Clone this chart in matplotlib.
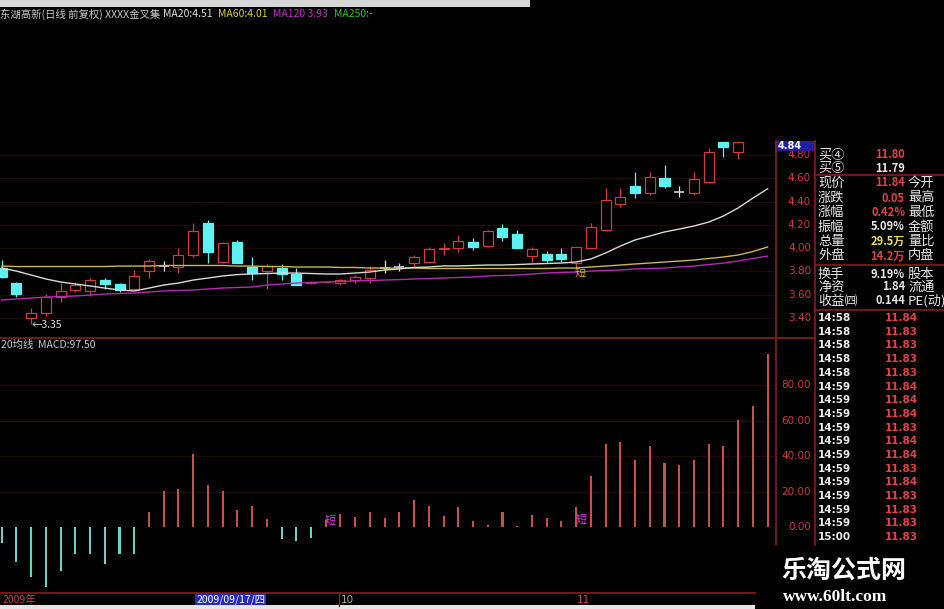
import matplotlib
matplotlib.use("Agg")
import matplotlib.pyplot as plt
import numpy as np
from matplotlib import transforms
from matplotlib.patches import Rectangle

W, H = 945, 609
plt.rcParams["font.family"] = ["Noto Sans CJK SC", "DejaVu Sans"]

# --- Kursdaten (Tageskerzen) ---
opens = [3.83, 3.70, 3.40, 3.44, 3.58, 3.64, 3.63, 3.73, 3.69, 3.65,
         3.80, 3.85, 3.84, 3.94, 4.22, 3.88, 4.05, 3.84, 3.80, 3.83,
         3.78, 3.70, 3.705, 3.70, 3.725, 3.745, 3.83, 3.84, 3.87, 3.88,
         3.99, 4.00, 4.05, 4.02, 4.17, 4.12, 3.93, 3.95, 3.95, 3.87,
         4.00, 4.16, 4.38, 4.53, 4.47, 4.60, 4.48, 4.47, 4.57, 4.91,
         4.83, np.nan, np.nan]
highs = [3.90, 3.71, 3.49, 3.61, 3.70, 3.71, 3.74, 3.74, 3.70, 3.81,
         3.91, 3.89, 4.00, 4.22, 4.24, 4.05, 4.07, 3.92, 3.86, 3.86,
         3.83, 3.72, 3.72, 3.735, 3.77, 3.85, 3.90, 3.87, 3.94, 4.01,
         4.04, 4.11, 4.09, 4.16, 4.21, 4.16, 4.01, 3.975, 4.00, 4.01,
         4.22, 4.52, 4.52, 4.65, 4.65, 4.71, 4.53, 4.65, 4.86, 4.91,
         4.91, np.nan, np.nan]
lows = [3.74, 3.58, 3.35, 3.42, 3.54, 3.62, 3.59, 3.65, 3.62, 3.64,
        3.74, 3.80, 3.79, 3.92, 3.87, 3.87, 3.87, 3.73, 3.65, 3.73,
        3.68, 3.69, 3.70, 3.68, 3.70, 3.70, 3.79, 3.80, 3.84, 3.87,
        3.94, 3.97, 3.98, 4.01, 4.06, 4.00, 3.88, 3.88, 3.88, 3.83,
        4.00, 4.15, 4.35, 4.43, 4.46, 4.52, 4.44, 4.46, 4.56, 4.78,
        4.77, np.nan, np.nan]
closes = [3.75, 3.61, 3.44, 3.58, 3.63, 3.68, 3.73, 3.69, 3.64, 3.76,
          3.89, 3.85, 3.94, 4.15, 3.97, 4.04, 3.87, 3.79, 3.85, 3.78,
          3.68, 3.71, 3.71, 3.725, 3.75, 3.81, 3.83, 3.84, 3.92, 3.99,
          4.00, 4.06, 4.01, 4.15, 4.10, 4.00, 3.99, 3.90, 3.91, 4.01,
          4.18, 4.41, 4.44, 4.47, 4.61, 4.53, 4.48, 4.59, 4.83, 4.87,
          4.91, np.nan, np.nan]

ma20 = [3.829, 3.803, 3.769, 3.735, 3.709, 3.692, 3.675, 3.657, 3.640, 3.632,
        3.657, 3.683, 3.700, 3.726, 3.743, 3.761, 3.773, 3.778, 3.782, 3.786,
        3.786, 3.782, 3.778, 3.778, 3.786, 3.795, 3.812, 3.821, 3.834, 3.838,
        3.847, 3.847, 3.851, 3.855, 3.855, 3.859, 3.864, 3.868, 3.872, 3.881,
        3.907, 3.958, 4.018, 4.070, 4.104, 4.139, 4.164, 4.190, 4.224, 4.276,
        4.345, 4.430, 4.510]
ma60 = [3.846, 3.842, 3.842, 3.842, 3.842, 3.842, 3.842, 3.842, 3.846, 3.846,
        3.846, 3.851, 3.851, 3.851, 3.851, 3.851, 3.846, 3.846, 3.842, 3.842,
        3.838, 3.838, 3.838, 3.834, 3.834, 3.829, 3.829, 3.829, 3.829, 3.825,
        3.825, 3.825, 3.825, 3.825, 3.825, 3.825, 3.825, 3.825, 3.829, 3.829,
        3.838, 3.846, 3.855, 3.864, 3.872, 3.881, 3.889, 3.898, 3.911, 3.924,
        3.941, 3.971, 4.010]
ma120 = [3.554, 3.563, 3.571, 3.580, 3.584, 3.589, 3.597, 3.606, 3.610, 3.614,
         3.623, 3.632, 3.636, 3.640, 3.649, 3.657, 3.662, 3.666, 3.683, 3.692,
         3.700, 3.705, 3.709, 3.713, 3.718, 3.722, 3.726, 3.730, 3.735, 3.739,
         3.743, 3.748, 3.752, 3.761, 3.765, 3.769, 3.778, 3.786, 3.791, 3.795,
         3.803, 3.808, 3.812, 3.821, 3.825, 3.829, 3.838, 3.846, 3.859, 3.872,
         3.889, 3.911, 3.932]

macd = [-9, -20, -28.5, -34, -25, -15, -15, -21, -15.5, -15,
        8.5, 20.5, 21.5, 41, 24, 20.5, 9.5, 12, 4.5, -7,
        -8, -6, 4, 7.5, 5.5, 8.5, 5, 8.5, 15, 12,
        6, 11.5, 3.5, 1, 8.5, 0.5, 7, 5, 3.5, 11.5,
        29, 47, 48, 38, 45.5, 36, 35, 38, 47, 45.5,
        60.5, 68.5, 97.5]

price_ticks = [3.40, 3.60, 3.80, 4.00, 4.20, 4.40, 4.60, 4.80]
macd_ticks = [0, 20, 40, 60, 80]

# Info-Panel rechts
info_rows = [
    ("买④", "11.80", "red", ""), ("买⑤", "11.79", "white", ""),
    ("现价", "11.84", "red", "今开"), ("涨跌", "0.05", "red", "最高"),
    ("涨幅", "0.42%", "red", "最低"), ("振幅", "5.09%", "white", "金额"),
    ("总量", "29.5万", "yellow", "量比"), ("外盘", "14.2万", "red", "内盘"),
    ("换手", "9.19%", "white", "股本"), ("净资", "1.84", "white", "流通"),
    ("收益㈣", "0.144", "white", "PE(动)"),
]
info_y = [155, 168, 183, 198, 212, 227, 241, 256, 274, 287, 301]
tick_times = ["14:58"] * 5 + ["14:59"] * 11 + ["15:00"]
tick_prices = ["11.84", "11.83", "11.83", "11.83", "11.83", "11.84", "11.84",
               "11.84", "11.83", "11.84", "11.84", "11.83", "11.84", "11.83",
               "11.83", "11.83", "11.83"]

RED = "#cc3e36"
CYAN = "#5ff2f2"
DOJI = "#e4e4e4"
GRID = "#260707"
FRAME = "#8a1c1c"
COLS = {"red": "#e04444", "white": "#e8e8e8", "yellow": "#e6e060"}


def px_rect(x0, y0, x1, y1):
    return [x0 / W, 1 - y1 / H, (x1 - x0) / W, (y1 - y0) / H]


fig = plt.figure(figsize=(W / 100, H / 100), dpi=100, facecolor="black")
xlim = (-0.115, 52.57)

# --- Kurs-Panel ---
ax = fig.add_axes(px_rect(0, 20, 776, 338))
ax.set_xlim(*xlim)
ax.set_ylim(3.228, 5.96)
ax.axis("off")
for t in price_ticks:
    ax.axhline(t, color=GRID, lw=0.7, zorder=1)

idx = np.arange(len(opens))
BW = 0.68
for i, o, h, l, c in zip(idx, opens, highs, lows, closes):
    if np.isnan(o):
        continue
    if c > o:
        col, face = RED, "black"
    elif c < o:
        col, face = CYAN, CYAN
    else:
        col, face = DOJI, None
    ax.vlines(i, l, h, color=col, lw=0.9, zorder=3)
    if face is None:
        ax.hlines(o, i - BW / 2, i + BW / 2, color=col, lw=1.1, zorder=4)
    else:
        ax.add_patch(Rectangle((i - BW / 2, min(o, c)), BW, abs(c - o),
                               facecolor=face, edgecolor=col, lw=0.9, zorder=4))

ax.plot(idx, ma60, color="#c8b850", lw=1.0, zorder=5)
ax.plot(idx, ma120, color="#b02cb0", lw=1.0, zorder=5)
ax.plot(idx, ma20, color="#d8d8d8", lw=1.0, zorder=6)

ptrans = transforms.blended_transform_factory(fig.transFigure, ax.transData)
for t in price_ticks:
    ax.text(811 / W, t, f"{t:.2f}", transform=ptrans, ha="right", va="center",
            color="#c83c3c", fontsize=7.5, family="DejaVu Sans", clip_on=False)

# --- MACD-Panel ---
mx = fig.add_axes(px_rect(0, 338, 776, 593))
mx.set_xlim(*xlim)
mx.set_ylim(-37.3, 106.8)
mx.axis("off")
for t in macd_ticks[1:]:
    mx.axhline(t, color=GRID, lw=0.8, zorder=1)
bar_cols = ["#c85044" if v >= 0 else "#6cd2c8" for v in macd]
mx.bar(idx, macd, width=0.14, color=bar_cols, zorder=3)
mtrans = transforms.blended_transform_factory(fig.transFigure, mx.transData)
for t in macd_ticks:
    mx.text(811 / W, t, f"{t:.2f}", transform=mtrans, ha="right", va="center",
            color="#c83c3c", fontsize=7.5, family="DejaVu Sans", clip_on=False)

# --- Overlay in Pixelkoordinaten ---
ov = fig.add_axes([0, 0, 1, 1], zorder=10)
ov.set_xlim(0, W)
ov.set_ylim(H, 0)
ov.axis("off")

ov.add_patch(Rectangle((0, 0), 530, 7, facecolor="#d6d6d6", lw=0))
title_parts = [
    (0, "东湖高新(日线 前复权) XXXX金叉集", "#c8c8c8"),
    (163, "MA20:4.51", "#e0e0e0"),
    (218, "MA60:4.01", "#d8cc40"),
    (273, "MA120 3.93", "#c030c0"),
    (334, "MA250:-", "#30c030"),
]
for x, s, c in title_parts:
    ov.text(x, 14, s, color=c, fontsize=7.5, va="center", ha="left")

# Rahmenlinien
ov.plot([0, 815], [338, 338], color=FRAME, lw=1.2)
ov.plot([776, 776], [141, 545], color=FRAME, lw=1.2)
ov.plot([815, 815], [141, 545], color=FRAME, lw=1.2)
for y in (175, 265, 310):
    ov.plot([815, 945], [y, y], color=FRAME, lw=1.2)
ov.plot([0, 755], [593, 593], color=FRAME, lw=1.2)
ov.plot([339, 339], [593, 606], color=FRAME, lw=1.0)

# 4.84-Markierung
ov.add_patch(Rectangle((775, 141), 40, 10, facecolor="#1e1ea8", lw=0))
ov.text(778, 146, "4.84", color="white", fontsize=7, va="center",
        family="DejaVu Sans", fontweight="bold")

ov.text(32, 325, "←3.35", color="#e0e0e0", fontsize=7.5, va="center")
ov.text(580, 273, "短", color="#e0b020", fontsize=8, va="center", ha="center")
ov.text(1, 345, "20均线  MACD:97.50", color="#c8c8c8", fontsize=7.5, va="center")
ov.text(330, 521, "短", color="#d040e0", fontsize=8, va="center", ha="center")
ov.text(581, 520, "短", color="#d040e0", fontsize=8, va="center", ha="center")

# Info-Zeilen
for (lab, val, vc, rlab), y in zip(info_rows, info_y):
    ov.text(818, y, lab, color="#e8e8e8", fontsize=9.5, va="center")
    ov.text(905, y, val, color=COLS[vc], fontsize=8, va="center", ha="right",
            fontweight="bold")
    if rlab:
        ov.text(908, y, rlab, color="#e8e8e8", fontsize=9.5, va="center")

for k, (tm, pr) in enumerate(zip(tick_times, tick_prices)):
    y = 318 + k * 13.7
    ov.text(818, y, tm, color="#ececec", fontsize=7.5, va="center",
            family="DejaVu Sans", fontweight="bold")
    ov.text(918, y, pr, color="#e04444", fontsize=7.5, va="center", ha="right",
            family="DejaVu Sans", fontweight="bold")

# Zeitachse
ov.text(3, 600, "2009年", color="#c04848", fontsize=7.5, va="center")
ov.add_patch(Rectangle((195, 593), 71, 13, facecolor="#2a2ab8", lw=0))
ov.text(197, 600, "2009/09/17/四", color="white", fontsize=7.5, va="center")
ov.text(341, 600, "10", color="#b8a0a0", fontsize=7.5, va="center",
        family="DejaVu Sans")
ov.text(577, 600, "11", color="#c05050", fontsize=7.5, va="center",
        family="DejaVu Sans")
ov.add_patch(Rectangle((0, 605), 755, 4, facecolor="#e6e6e6", lw=0))

# Wasserzeichen
ov.text(781, 571, "乐淘公式网", color="white", fontsize=18, va="center",
        fontweight="bold")
ov.text(783, 597, "www.60lt.com", color="white", fontsize=12.5, va="center",
        family="Liberation Serif", fontweight="bold")

fig.savefig("out.png", dpi=100, facecolor="black")
